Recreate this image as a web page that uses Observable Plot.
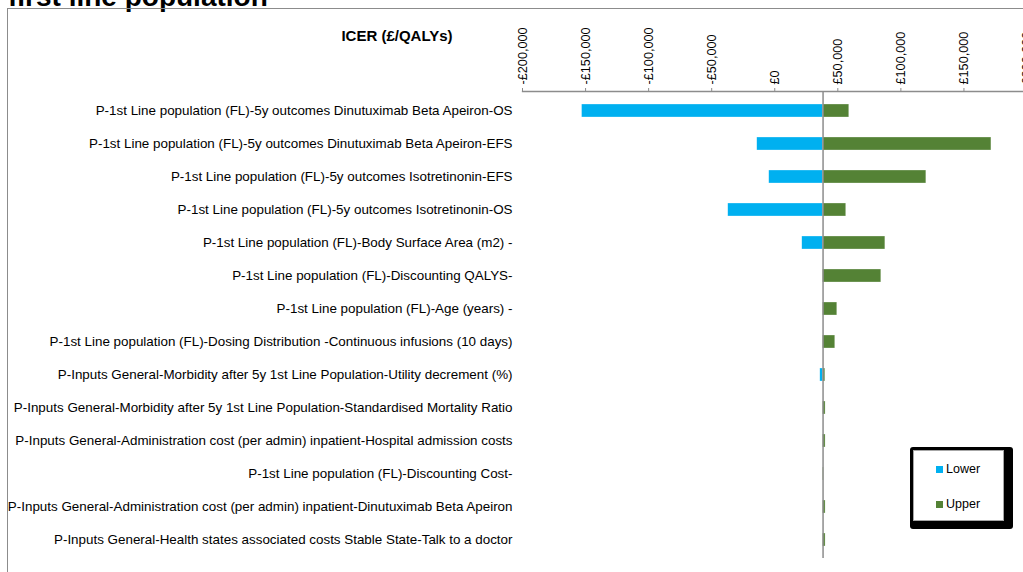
<!DOCTYPE html>
<html>
<head>
<meta charset="utf-8">
<script src="https://cdn.jsdelivr.net/npm/d3@7"></script>
<script src="https://cdn.jsdelivr.net/npm/@observablehq/plot@0.6"></script>
<style>
  html, body { margin: 0; padding: 0; background: #fff; }
  body { width: 1023px; height: 572px; overflow: hidden; position: relative;
         font-family: "Liberation Sans", Arial, sans-serif; }
  #chart { position: absolute; left: 0; top: 0; }
  #title { position: absolute; left: 8px; top: -17px; font-size: 28px; font-weight: bold;
           line-height: 28px; white-space: nowrap; color: #000; }
  #frame { position: absolute; left: 7px; top: 8px; width: 1040px; height: 600px;
           border: 1.5px solid #8c8c8c; box-sizing: border-box; pointer-events: none; }
  #xlabel { position: absolute; left: 297px; top: 27px; width: 200px; text-align: center;
            font-size: 15px; font-weight: bold; line-height: 18px; }
  #legend-outer { position: absolute; left: 910px; top: 447px; width: 103px; height: 82px;
                  background: #000; border-radius: 3px; }
  #legend-inner { position: absolute; left: 913px; top: 450px; width: 91px; height: 71px;
                  background: #fff; border: 1px solid #a6a6a6; box-sizing: border-box; }
  .leg-item { position: absolute; left: 936px; font-size: 12.5px; line-height: 14px;
              display: flex; align-items: center; white-space: nowrap; }
  .leg-sw { width: 7px; height: 7px; margin-right: 3px; }
</style>
</head>
<body>
<div id="chart"></div>
<div id="title">first line population</div>
<div id="frame"></div>
<div id="xlabel">ICER (£/QALYs)</div>
<div id="legend-outer"></div>
<div id="legend-inner"></div>
<div id="legend-items"></div>
<script>
// ---- data ----
const labels = [
  "P-1st Line population (FL)-5y outcomes Dinutuximab Beta Apeiron-OS",
  "P-1st Line population (FL)-5y outcomes Dinutuximab Beta Apeiron-EFS",
  "P-1st Line population (FL)-5y outcomes Isotretinonin-EFS",
  "P-1st Line population (FL)-5y outcomes Isotretinonin-OS",
  "P-1st Line population (FL)-Body Surface Area (m2) -",
  "P-1st Line population (FL)-Discounting QALYS-",
  "P-1st Line population (FL)-Age (years) -",
  "P-1st Line population (FL)-Dosing Distribution -Continuous infusions (10 days)",
  "P-Inputs General-Morbidity after 5y 1st Line Population-Utility decrement (%)",
  "P-Inputs General-Morbidity after 5y 1st Line Population-Standardised Mortality Ratio",
  "P-Inputs General-Administration cost (per admin) inpatient-Hospital admission costs",
  "P-1st Line population (FL)-Discounting Cost-",
  "P-Inputs General-Administration cost (per admin) inpatient-Dinutuximab Beta Apeiron",
  "P-Inputs General-Health states associated costs Stable State-Talk to a doctor"
];
const baseICER = 38300;
const lowerValues = [-152800, -13900, -4400, -36900, 21800, 38300, 38300, 38300, 36100, 38300, 38300, 38300, 38300, 38300];
const upperValues = [59100, 171800, 120200, 56700, 87700, 84500, 49600, 48000, 40100, 40300, 40300, 38900, 40300, 40300];
const seriesNames = ["Lower", "Upper"];
const seriesColors = ["#00B0F0", "#548235"];
const xTicks = [-200000, -150000, -100000, -50000, 0, 50000, 100000, 150000, 200000];

const rows = labels.map((label, i) => ({label, lower: lowerValues[i], upper: upperValues[i]}));
const fmtNum = d3.format(",");
const fmt = d => (d < 0 ? "-£" : "£") + fmtNum(Math.abs(d));

const chart = Plot.plot({
  width: 1023,
  height: 572,
  marginLeft: 522,
  marginRight: 0,
  marginTop: 91,
  marginBottom: 14,
  style: {fontFamily: "'Liberation Sans', Arial, sans-serif", fontSize: "12px", background: "none", color: "#000"},
  x: {domain: [-200000, 200000], range: [522, 1026.5]},
  y: {domain: labels, range: [92.05, 558.25], paddingInner: 0.6, paddingOuter: 0.3},
  marks: [
    Plot.frame({anchor: "top", stroke: "#8c8c8c", strokeWidth: 1.3}),
    Plot.axisX({anchor: "top", ticks: xTicks, tickSize: 4, tickPadding: 3, tickRotate: -90,
                textAnchor: "start", lineAnchor: "middle", tickFormat: fmt, label: null,
                stroke: "#8c8c8c", fill: "#000", fontSize: 12.7}),
    Plot.axisY({anchor: "left", tickSize: 0, tickPadding: 10, label: null, fontSize: 13.4, fill: "#000"}),
    Plot.barX(rows, {y: "label", x1: () => baseICER, x2: "lower", fill: seriesColors[0],
                     stroke: "#fff", strokeWidth: 0.5, strokeOpacity: 0.6}),
    Plot.barX(rows, {y: "label", x1: () => baseICER, x2: "upper", fill: seriesColors[1],
                     stroke: "#fff", strokeWidth: 0.5, strokeOpacity: 0.6}),
    Plot.ruleX([baseICER], {stroke: "#8c8c8c", strokeWidth: 1.5})
  ]
});
document.getElementById("chart").appendChild(chart);

// legend
const legendTops = [462, 497];
const items = document.getElementById("legend-items");
seriesNames.forEach((name, i) => {
  const div = document.createElement("div");
  div.className = "leg-item";
  div.style.top = legendTops[i] + "px";
  div.innerHTML = `<span class="leg-sw" style="background:${seriesColors[i]}"></span><span>${name}</span>`;
  items.appendChild(div);
});
</script>
</body>
</html>
